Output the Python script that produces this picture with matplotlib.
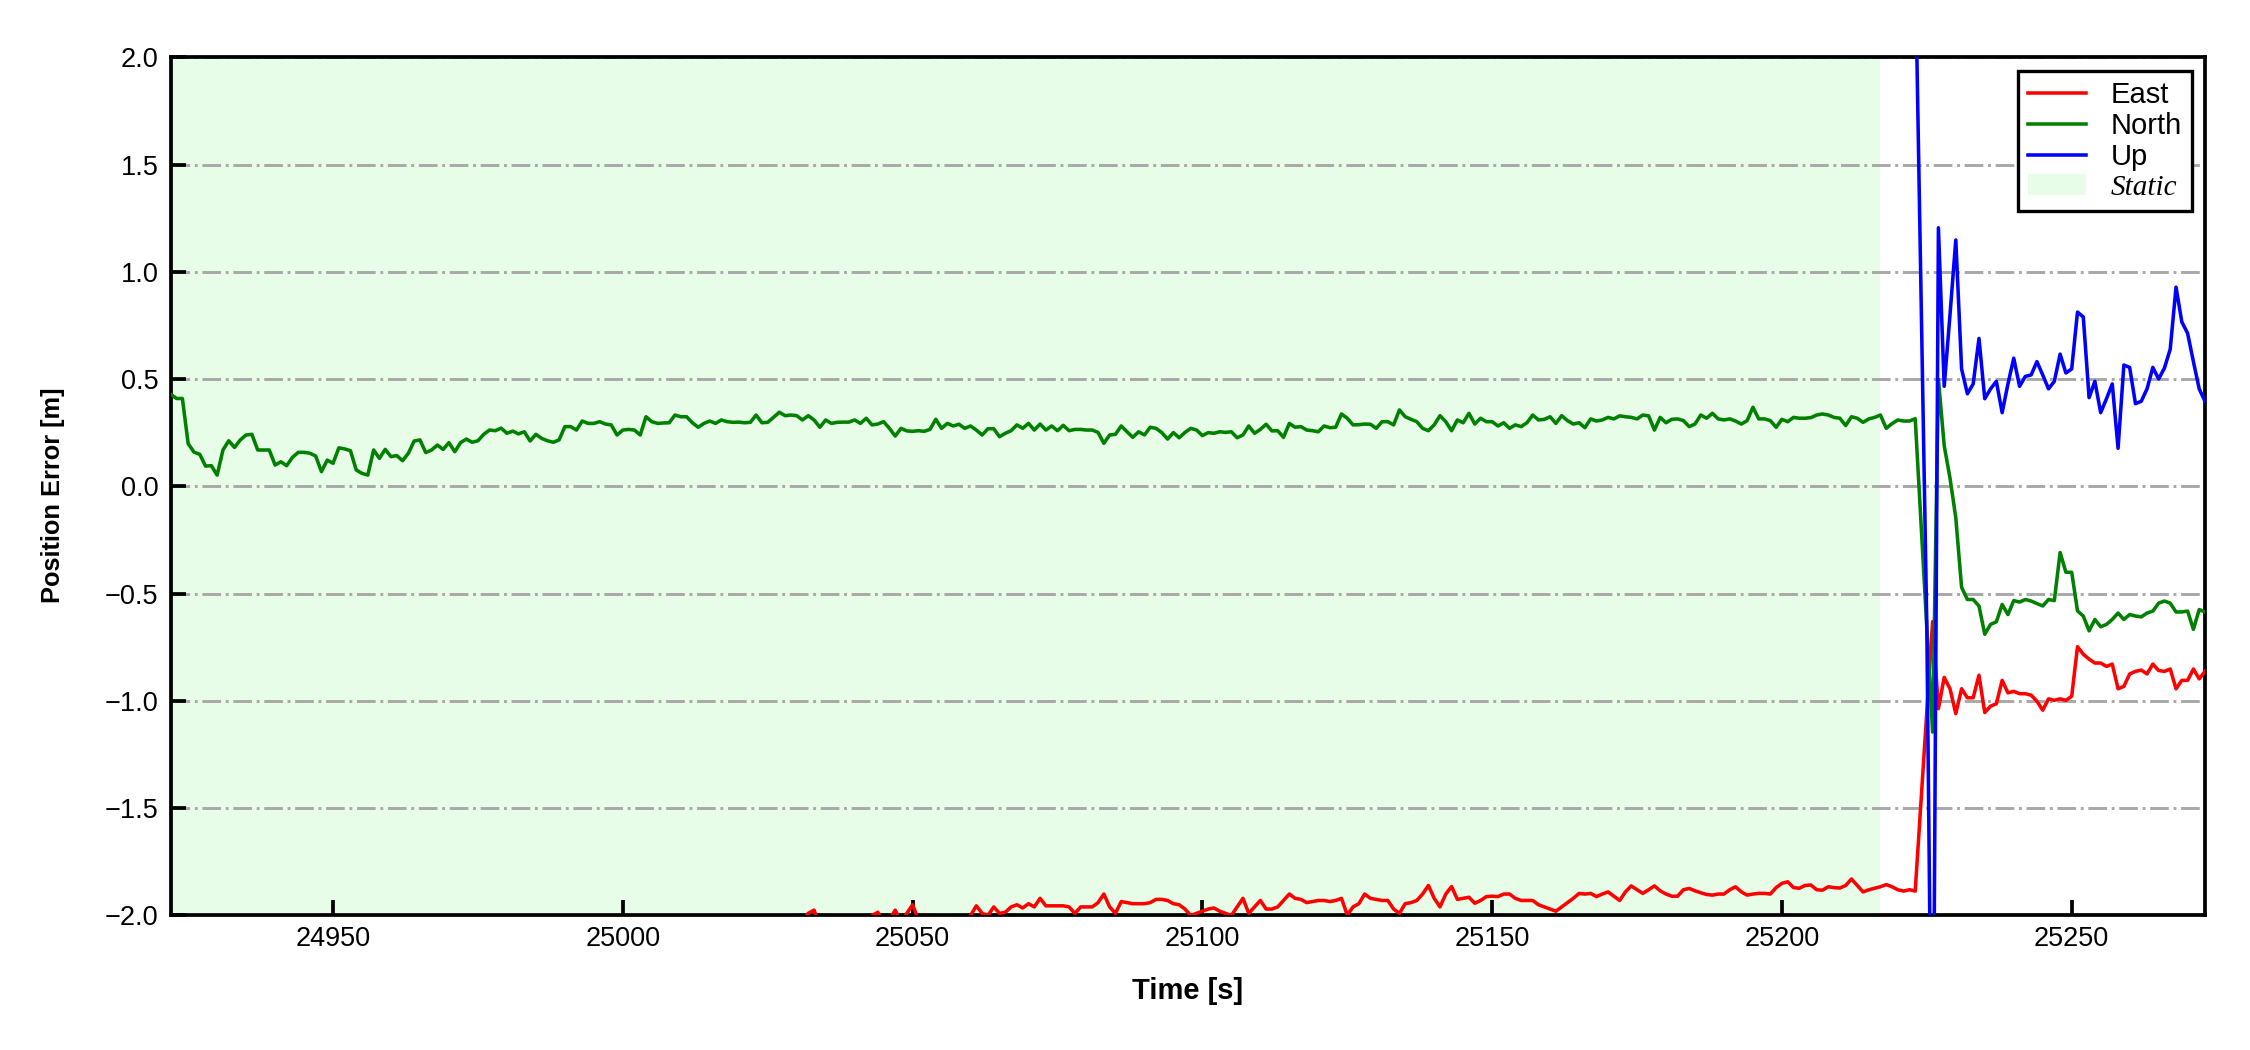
import numpy as np
import matplotlib.pyplot as plt

# Position error of the receiver (1 Hz), metres
north_start = 24922
north_err = [
    0.43, 0.41, 0.41, 0.20, 0.16, 0.15, 0.095, 0.097, 0.053, 0.17,
    0.213, 0.182, 0.217, 0.24, 0.243, 0.17, 0.17, 0.17, 0.10, 0.115,
    0.097, 0.136, 0.159, 0.159, 0.155, 0.142, 0.069, 0.123, 0.108, 0.18,
    0.175, 0.167, 0.077, 0.061, 0.053, 0.17, 0.131, 0.173, 0.139, 0.144,
    0.12, 0.155, 0.212, 0.217, 0.158, 0.17, 0.193, 0.173, 0.204, 0.162,
    0.204, 0.221, 0.206, 0.213, 0.243, 0.263, 0.26, 0.272, 0.248, 0.258,
    0.245, 0.255, 0.212, 0.243, 0.224, 0.213, 0.206, 0.217, 0.279, 0.279,
    0.263, 0.305, 0.294, 0.294, 0.302,
    0.291, 0.287, 0.24, 0.263, 0.266, 0.263, 0.24, 0.325, 0.302, 0.294,
    0.296, 0.297, 0.333, 0.325, 0.325, 0.297, 0.276, 0.294, 0.305, 0.294,
    0.310, 0.302, 0.299, 0.300, 0.297, 0.299, 0.333, 0.297, 0.299, 0.322,
    0.346, 0.330, 0.333, 0.330, 0.310, 0.330, 0.310, 0.276, 0.310, 0.294,
    0.299, 0.300, 0.300, 0.310, 0.294, 0.318, 0.287, 0.291, 0.302, 0.271,
    0.235, 0.271, 0.259, 0.257, 0.260, 0.257, 0.266, 0.313, 0.271, 0.294,
    0.282, 0.290, 0.271, 0.282, 0.263, 0.240, 0.269, 0.269, 0.232, 0.248,
    0.260, 0.287, 0.271,
    0.294, 0.263, 0.291, 0.263, 0.282, 0.260, 0.285, 0.260, 0.266, 0.266,
    0.263, 0.263, 0.252, 0.201, 0.240, 0.243, 0.282, 0.255, 0.229, 0.255,
    0.240, 0.276, 0.271, 0.251, 0.221, 0.251, 0.227, 0.252, 0.271, 0.263,
    0.237, 0.251, 0.248, 0.255, 0.252, 0.255, 0.227, 0.240, 0.282, 0.248,
    0.266, 0.290, 0.259, 0.260, 0.229, 0.294, 0.276, 0.279, 0.263, 0.260,
    0.255, 0.282, 0.274, 0.276, 0.338, 0.318, 0.287, 0.288, 0.291, 0.290,
    0.271, 0.302, 0.302, 0.287, 0.357, 0.325, 0.313, 0.302, 0.271, 0.260,
    0.287, 0.330, 0.302, 0.260,
    0.310, 0.297, 0.341, 0.291, 0.318, 0.302, 0.302, 0.282, 0.297, 0.271,
    0.287, 0.279, 0.297, 0.333, 0.310, 0.313, 0.325, 0.294, 0.330, 0.307,
    0.291, 0.297, 0.274, 0.315, 0.305, 0.310, 0.322, 0.315, 0.329, 0.325,
    0.322, 0.315, 0.333, 0.329, 0.263, 0.322, 0.297, 0.313, 0.315, 0.307,
    0.279, 0.291, 0.333, 0.318, 0.341, 0.315, 0.310, 0.315, 0.305, 0.291,
    0.307, 0.369, 0.315, 0.315, 0.307, 0.276, 0.313, 0.302, 0.322, 0.318,
    0.318, 0.321, 0.333, 0.338, 0.333, 0.322, 0.318, 0.284, 0.325, 0.318,
    0.299, 0.315, 0.322, 0.333, 0.271,
    0.293, 0.310, 0.305, 0.305, 0.316, -0.17, -0.66, -1.145, 0.50, 0.19,
    0.039, -0.146, -0.47, -0.527, -0.527, -0.557, -0.689, -0.643, -0.631, -0.55,
    -0.597, -0.532, -0.539, -0.527, -0.534, -0.546, -0.557, -0.527, -0.532, -0.308,
    -0.40, -0.40, -0.58, -0.604, -0.673, -0.620, -0.654, -0.643, -0.620, -0.590,
    -0.620, -0.597, -0.604, -0.608, -0.590, -0.581, -0.544, -0.534, -0.544, -0.585,
    -0.585, -0.581, -0.666, -0.574, -0.585,
]

east_start = 25028
east_err = [
    -2.1, -2.05, -2.08, -2.02, -1.99, -1.975, -2.05,
    -2.1, -2.06, -2.12, -2.04, -2.08, -2.1, -2.05,
    -2.03, -2.0, -1.985, -2.04, -2.02, -1.975, -2.03, -1.99, -1.95, -2.02,
    -2.08, -2.05, -2.1, -2.06, -2.03, -2.07, -2.04, -2.02,
    -2.0, -1.955, -1.99, -2.0, -1.96, -1.99, -1.985, -1.96, -1.95, -1.965,
    -1.945, -1.96, -1.92, -1.955, -1.955, -1.955, -1.955, -1.96, -1.99, -1.96,
    -1.96, -1.96, -1.94, -1.9, -1.96, -1.99, -1.935, -1.94, -1.945, -1.945,
    -1.945, -1.94, -1.925, -1.925, -1.93, -1.945, -1.95, -1.97, -2.0, -1.99,
    -1.98, -1.97, -1.965, -1.98, -1.99, -2.0, -1.96, -1.92, -1.99, -1.96,
    -1.93, -1.97, -1.97, -1.96, -1.93, -1.9, -1.92, -1.925, -1.94, -1.935,
    -1.93, -1.93, -1.935, -1.93, -1.92, -1.998, -1.96, -1.945, -1.9, -1.92,
    -1.925, -1.93, -1.93, -1.97, -1.99, -1.945, -1.94, -1.93, -1.9, -1.86,
    -1.92, -1.96, -1.9, -1.865, -1.925, -1.92, -1.915, -1.943, -1.93, -1.912,
    -1.91, -1.912, -1.9, -1.9, -1.92, -1.93, -1.93, -1.93, -1.95, -1.96,
    -1.97, -1.98, -1.96, -1.94, -1.92, -1.897, -1.9, -1.897, -1.912, -1.9,
    -1.89, -1.91, -1.93, -1.89, -1.862, -1.88, -1.897, -1.88, -1.862, -1.885,
    -1.9, -1.91, -1.91, -1.88, -1.874, -1.885, -1.894, -1.902, -1.905, -1.9,
    -1.9, -1.88, -1.866, -1.89, -1.905, -1.9, -1.897, -1.897, -1.9, -1.87,
    -1.85, -1.843, -1.87, -1.873, -1.86, -1.858, -1.88, -1.882, -1.866, -1.87,
    -1.872, -1.86, -1.83, -1.86, -1.89,
    -1.88, -1.873, -1.866, -1.856, -1.866, -1.88, -1.886, -1.88, -1.886,
    -1.47, -1.05, -0.63, -1.036, -0.89, -0.943, -1.059, -0.943, -0.985, -0.985,
    -0.88, -1.054, -1.024, -1.013, -0.904, -0.962, -0.955, -0.966, -0.966, -0.973,
    -1.001, -1.043, -0.99, -0.997, -0.99, -0.997, -0.978, -0.747, -0.782, -0.805,
    -0.823, -0.823, -0.839, -0.828, -0.943, -0.932, -0.874, -0.862, -0.856, -0.874,
    -0.828, -0.858, -0.862, -0.851, -0.943, -0.904, -0.904, -0.851, -0.897, -0.862,
]

up_start = 25218
up_err = [
    3.8, 3.9, 3.7, 3.9, 4.0, 2.45, 0.9, -0.65, -3.3, 1.206,
    0.467, 0.80, 1.149, 0.548, 0.432, 0.478, 0.69, 0.409, 0.455, 0.49,
    0.344, 0.478, 0.598, 0.467, 0.513, 0.52, 0.582, 0.52, 0.455, 0.49,
    0.617, 0.529, 0.548, 0.813, 0.79, 0.414, 0.49, 0.344, 0.409, 0.478,
    0.178, 0.566, 0.555, 0.386, 0.397, 0.455, 0.555, 0.501, 0.552, 0.64,
    0.929, 0.767, 0.714, 0.582, 0.455, 0.397,
]

# Static period, axis range and ticks
static_span = [24922, 25217]
t_range = [24922, 25273]
x_ticks = [24950, 25000, 25050, 25100, 25150, 25200, 25250]
y_ticks = [-2.0, -1.5, -1.0, -0.5, 0.0, 0.5, 1.0, 1.5, 2.0]

t_north = north_start + np.arange(len(north_err))
t_east = east_start + np.arange(len(east_err))
t_up = up_start + np.arange(len(up_err))

plt.rcParams['font.family'] = ['Liberation Sans', 'DejaVu Sans']

fig = plt.figure(figsize=(7.5, 3.5), dpi=300)
ax = fig.add_axes([0.0759, 0.1281, 0.9041, 0.8172])

# Static shading and the three error curves
ax.axvspan(static_span[0], static_span[1], color='#e8fde8', lw=0, label='Static', zorder=0)
ax.plot(t_east, east_err, color='red', lw=0.85, label='East', zorder=3)
ax.plot(t_north, north_err, color='green', lw=0.85, label='North', zorder=3)
ax.plot(t_up, up_err, color='blue', lw=0.85, label='Up', zorder=3)

ax.set_xlim(t_range)
ax.set_ylim(-2.0, 2.0)
ax.set_xticks(x_ticks)
ax.set_yticks(y_ticks)
ax.set_yticklabels([f'{v:.1f}'.replace('-', '\u2212') for v in y_ticks])
ax.yaxis.grid(True, linestyle='-.', color='#a8a8a8', lw=0.7)
ax.set_axisbelow(True)

ax.tick_params(direction='in', length=3.5, width=0.9, labelsize=6.5)
ax.tick_params(axis='x', pad=2.5)
ax.tick_params(axis='y', pad=3)
for s in ax.spines.values():
    s.set_linewidth(0.9)

ax.set_xlabel('Time [s]', fontsize=7, fontweight='bold', labelpad=6)
ax.set_ylabel('Position Error [m]', fontsize=6.1, fontweight='bold')
ax.yaxis.set_label_coords(-0.052, 0.49)

# Legend: lines first, shaded patch last
h, l = ax.get_legend_handles_labels()
order = [1, 2, 3, 0]
leg = ax.legend([h[i] for i in order], [l[i] for i in order], loc='upper right',
                fontsize=7, fancybox=False, edgecolor='black', framealpha=1,
                handlelength=1.97, handletextpad=0.84, labelspacing=0.11,
                borderpad=0.35, borderaxespad=0.45)
leg.get_frame().set_linewidth(0.8)
leg.get_texts()[3].set_fontfamily(['Liberation Serif'])
leg.get_texts()[3].set_fontstyle('italic')

fig.savefig('out.png', dpi=300)
